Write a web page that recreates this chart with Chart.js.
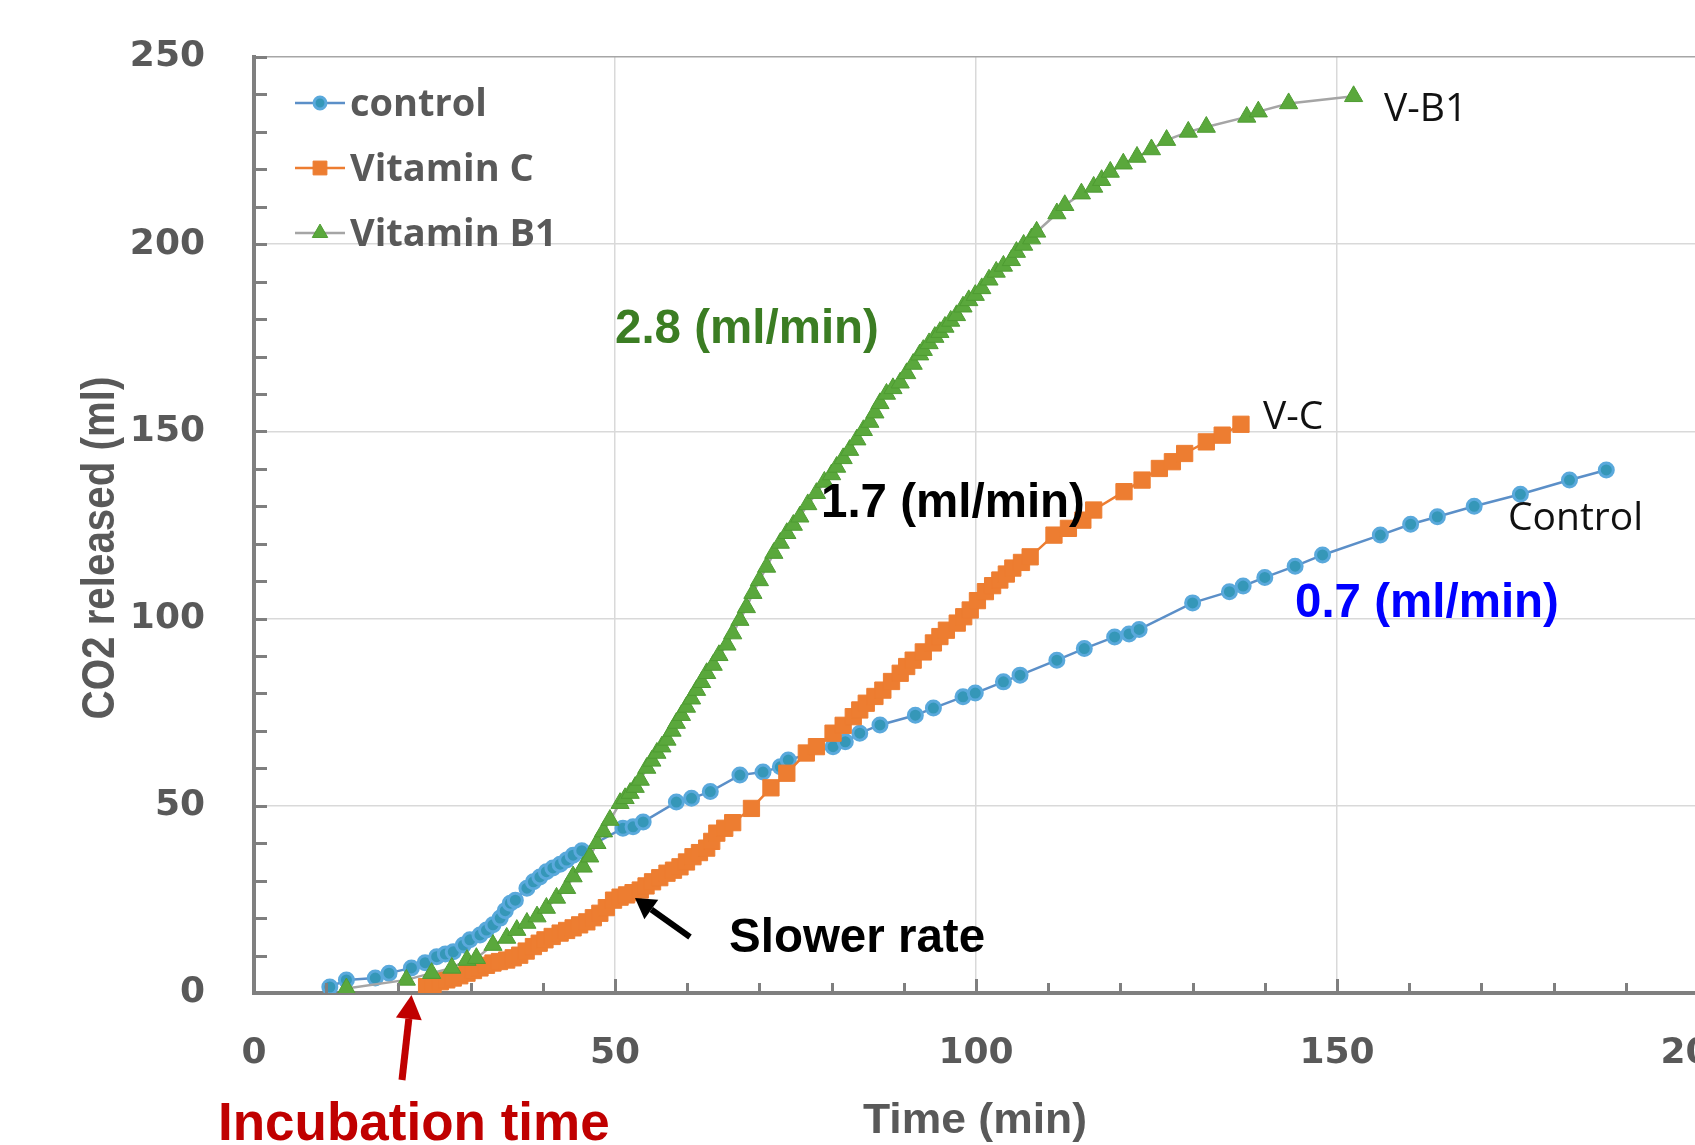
<!DOCTYPE html>
<html>
<head>
<meta charset="utf-8">
<script src="https://cdn.jsdelivr.net/npm/chart.js@4.4.1/dist/chart.umd.min.js"></script>
<style>
  html, body { margin: 0; padding: 0; background: #fff; overflow: hidden; }
  #wrap { position: relative; width: 1720px; height: 1145px; }
</style>
</head>
<body>
<div id="wrap"><canvas id="chart" width="1720" height="1145"></canvas></div>
<script>
const seriesNames = ["control", "Vitamin C", "Vitamin B1"];
const endLabels = ["Control", "V-C", "V-B1"];
const rateLabels = ["0.7 (ml/min)", "1.7 (ml/min)", "2.8 (ml/min)"];

const controlTime = [10.5, 12.8, 16.8, 18.7, 21.8, 23.7, 25.3, 26.5, 27.6, 29, 29.9, 31.3, 32.2, 33.1, 34.1, 34.8, 35.5, 36.2,
  37.8, 38.7, 39.6, 40.5, 41.4, 42.4, 43.3, 44.2, 45.4, 51.1, 52.5, 53.9, 58.5, 60.6, 63.2, 67.3, 70.5, 72.9, 74,
  80.2, 81.9, 83.9, 86.7, 91.6, 94.1, 98.2, 99.9, 103.8, 106.1, 111.2, 115, 119.2, 121.2, 122.6, 130, 135.1, 137,
  140, 144.2, 148, 156, 160.2, 163.9, 169, 175.4, 182.2, 187.3];
const controlCO2 = [1.6, 3.5, 4.0, 5.3, 6.7, 8.1, 9.7, 10.4, 11, 12.8, 14.2, 15.5, 16.8, 18.2, 20, 22, 24, 24.8,
  28, 29.7, 31, 32.4, 33.4, 34.4, 35.5, 36.8, 38, 44, 44.4, 45.7, 51, 52, 53.8, 58.2, 59, 60.4, 62.2,
  65.8, 67.1, 69.4, 71.6, 74.2, 76.1, 79.1, 80.1, 83.1, 84.9, 88.9, 92, 95.1, 95.9, 97.1, 104.2, 107.2, 108.7,
  111, 114, 117, 122.3, 125.2, 127.2, 130, 133.2, 137, 139.7];

const vitCTime = [23.9, 24.8, 25.8, 26.7, 27.6, 28.5, 29.5, 30.4, 31.3, 32.2, 33.1, 34.0, 35, 35.9, 36.8, 37.7, 38.7,
  39.5, 40.3, 41.3, 42.4, 43.3, 44.2, 45.1, 46.1, 47.0, 47.9, 48.8, 49.8, 50.7, 51.6, 52.5, 53.5, 54.3, 55.2,
  56.2, 57.2, 58.1, 59, 59.9, 60.8, 61.7, 62.7, 63.4, 64.1, 65.2, 66.3, 68.9, 71.6, 73.8, 76.5, 77.9, 80.2,
  81.6, 83, 83.9, 84.8, 86.0, 87.1, 88.3, 89.5, 90.4, 91.3, 92.7, 94.1, 95.0, 95.9, 97.4, 98.3, 99.2, 100.2,
  101.3, 102.3, 103.3, 104.2, 105.1, 106.3, 107.5, 110.8, 112.8, 114.8, 116.3, 120.5, 123, 125.4, 127.2,
  128.9, 131.9, 134.1, 136.7];
const vitCCO2 = [1.7, 2.3, 3, 3.5, 4, 4.6, 5.3, 6.0, 6.7, 7.4, 8, 8.4, 8.8, 9.4, 10.1, 11.2, 12.4,
  13.3, 14.2, 15.1, 16, 16.7, 17.4, 18.2, 19, 20.1, 21.3, 22.8, 24.8, 25.6, 26.2, 26.8, 27.5, 28.6, 29.7,
  30.8, 32, 32.8, 33.7, 35.0, 36.4, 37.5, 38.7, 40.5, 42.7, 44.0, 45.5, 49.3, 54.8, 58.7, 64.1, 65.8, 69.4,
  71.5, 73.8, 75.6, 77.4, 79.2, 80.9, 83.2, 85.4, 87.2, 88.9, 91.1, 93.5, 95.2, 96.9, 98.8, 100.5, 102.3, 104.8,
  107.2, 108.8, 110.3, 111.9, 113.5, 115.0, 116.5, 122.3, 124.1, 126.3, 129, 133.9, 137, 140.1, 141.9,
  144.1, 147.2, 149, 151.9];

const vitB1Time = [12.8, 21.1, 24.6, 27.4, 29.5, 30.8, 33.1, 35, 36.4, 37.8, 39.2, 40.5, 41.9, 43.3, 44.2, 45.6, 46.5,
  47.5, 48.4, 49.3, 50.7, 51.4, 52.1, 52.8, 53.5, 54.4, 55.1, 55.8, 56.5, 57.2, 57.9, 58.5, 59.2, 59.9, 60.6,
  61.3, 62, 62.7, 63.6, 64.4, 65.5, 66.3, 67.3, 68.2, 69.1, 70, 71, 72, 72.9, 73.8, 74.7, 75.6, 76.7, 77.9, 79,
  80, 80.7, 81.6, 82.5, 83.5, 84.4, 85.3, 86, 86.7, 87.6, 88.5, 89.5, 90.4, 91.3, 92.2, 92.7, 93.5, 94.3, 95,
  95.7, 96.5, 97.3, 98.2, 99, 99.9, 100.8, 101.8, 102.8, 103.8, 104.9, 105.6, 106.6, 107.7, 108.4, 111.2,
  112.3, 114.6, 116.3, 117.4, 118.6, 120.4, 122.3, 124.3, 126.4, 129.4, 131.9, 137.5, 139.1, 143.3, 152.3];
const vitB1CO2 = [1.2, 3.5, 5.3, 6.7, 8.8, 9.3, 12.8, 14.7, 16.8, 18.7, 20.4, 22.7, 25.4, 28, 31.1, 33.7, 36.4,
  40, 43.1, 46.2, 50.7, 52, 53.4, 55, 56.9, 60.1, 62, 64.1, 65.8, 67.6, 70, 72.1, 74.2, 76.4, 78.6,
  80.9, 83, 85.4, 87.6, 90.2, 93, 96, 99.6, 103, 106.8, 110.2, 113.8, 117.5, 120.2, 122.8, 125, 127.2, 130.5, 133.5, 136.5,
  138.5, 140.5, 142.8, 145, 147.8, 150.3, 152.5, 155, 157.5, 160, 161.5, 163, 165.5, 168, 170.5, 171.7, 173.5, 175.2, 176.5,
  177.9, 179.5, 181, 183.3, 185, 186.4, 188.2, 190.5, 192.6, 194.2, 195.7, 197.9, 199.8, 201.5, 203.3, 208.2,
  210.4, 213.5, 215.3, 217.1, 219.3, 221.5, 223.3, 225.3, 227.8, 230, 231.3, 234, 235.4, 237.6, 239.5];

const xLabelValues = [0, 50, 100, 150, 200];
const yLabelValues = [0, 50, 100, 150, 200, 250];

const axisGray = "#7f7f7f";
const textGray = "#595959";

function toPoints(xs, ys) {
  return xs.map((x, i) => ({ x: x, y: ys[i] }));
}

// draw text squeezed/stretched to a given width
function fitText(ctx, text, x, y, width, font, color, rotate) {
  ctx.save();
  ctx.font = font;
  ctx.fillStyle = color;
  ctx.textAlign = "center";
  ctx.textBaseline = "alphabetic";
  const w = ctx.measureText(text).width;
  ctx.translate(x, y);
  if (rotate) ctx.rotate(-Math.PI / 2);
  ctx.scale(width / w, 1);
  ctx.fillText(text, 0, 0);
  ctx.restore();
}

function plainText(ctx, text, x, y, font, color) {
  ctx.font = font;
  ctx.fillStyle = color;
  ctx.textAlign = "left";
  ctx.textBaseline = "alphabetic";
  ctx.fillText(text, x, y);
}

function arrow(ctx, x1, y1, x2, y2, width, headLen, headWidth, color) {
  const ang = Math.atan2(y2 - y1, x2 - x1);
  const bx = x2 - Math.cos(ang) * headLen;
  const by = y2 - Math.sin(ang) * headLen;
  ctx.strokeStyle = color;
  ctx.fillStyle = color;
  ctx.lineWidth = width;
  ctx.lineCap = "butt";
  ctx.beginPath();
  ctx.moveTo(x1, y1);
  ctx.lineTo(bx, by);
  ctx.stroke();
  const nx = -Math.sin(ang) * headWidth / 2;
  const ny = Math.cos(ang) * headWidth / 2;
  ctx.beginPath();
  ctx.moveTo(x2, y2);
  ctx.lineTo(bx + nx, by + ny);
  ctx.lineTo(bx - nx, by - ny);
  ctx.closePath();
  ctx.fill();
}

const extras = {
  id: "extras",
  afterDraw(chart) {
    const ctx = chart.ctx;
    const xs = chart.scales.x;
    const ys = chart.scales.y;
    const area = chart.chartArea;
    ctx.save();

    // inward tick marks
    ctx.strokeStyle = axisGray;
    ctx.lineWidth = 3;
    for (let v = 10; v <= 250; v += 10) {
      const py = Math.round(ys.getPixelForValue(v)) + 0.5;
      ctx.beginPath();
      ctx.moveTo(area.left, py);
      ctx.lineTo(area.left + 13, py);
      ctx.stroke();
    }
    for (let v = 10; v <= 200; v += 10) {
      const px = Math.round(xs.getPixelForValue(v)) + 0.5;
      const len = v % 50 === 0 ? 14 : 10;
      ctx.beginPath();
      ctx.moveTo(px, area.bottom);
      ctx.lineTo(px, area.bottom - len);
      ctx.stroke();
    }

    // axis titles
    fitText(ctx, "CO2 released (ml)", 114, 548, 343, "bold 46px 'Liberation Sans'", textGray, true);
    fitText(ctx, "Time (min)", 975, 1133, 224, "bold 42px 'Liberation Sans'", textGray, false);

    // legend
    const rows = [103, 168, 233];
    chart.data.datasets.forEach((ds, i) => {
      const y = rows[i];
      ctx.strokeStyle = ds.borderColor;
      ctx.lineWidth = 2.5;
      ctx.beginPath();
      ctx.moveTo(295, y);
      ctx.lineTo(345, y);
      ctx.stroke();
      ctx.fillStyle = ds.pointBackgroundColor;
      ctx.strokeStyle = ds.pointBorderColor;
      ctx.lineWidth = ds.pointBorderWidth;
      Chart.helpers.drawPoint(ctx, { pointStyle: ds.pointStyle, radius: ds.pointRadius * 0.85, borderWidth: ds.pointBorderWidth, rotation: 0 }, 320, y);
      ctx.font = "bold 38px 'Open Sans'";
      ctx.fillStyle = textGray;
      ctx.textAlign = "left";
      ctx.textBaseline = "middle";
      ctx.fillText(ds.label, 350, y + 2);
    });

    // series end labels
    ctx.textBaseline = "middle";
    ctx.font = "39px 'Open Sans'";
    ctx.fillStyle = "#111";
    ctx.fillText(endLabels[2], 1384, 110);
    ctx.fillText(endLabels[1], 1263, 418);
    ctx.fillText(endLabels[0], 1508, 519);

    // rate annotations
    const rateFont = "bold 47.5px 'Liberation Sans'";
    plainText(ctx, rateLabels[2], 615, 343, rateFont, "#3b7d23");
    plainText(ctx, rateLabels[1], 821, 517, rateFont, "#000");
    plainText(ctx, rateLabels[0], 1295, 617, rateFont, "#0000ff");
    plainText(ctx, "Slower rate", 729, 952, rateFont, "#000");
    plainText(ctx, "Incubation time", 218, 1140, "bold 53px 'Liberation Sans'", "#c00000");

    arrow(ctx, 690, 937, 635, 898, 6, 20, 24, "#000");
    arrow(ctx, 402, 1080, 411.5, 995, 7, 24, 26, "#c00000");

    ctx.restore();
  }
};

new Chart(document.getElementById("chart"), {
  type: "scatter",
  data: {
    datasets: [
      {
        label: seriesNames[0],
        data: toPoints(controlTime, controlCO2),
        showLine: true,
        borderColor: "#5b8fc8",
        borderWidth: 2.5,
        pointStyle: "circle",
        pointRadius: 7,
        pointBackgroundColor: "#3597b8",
        pointBorderColor: "#5aa9dc",
        pointBorderWidth: 3,
        order: 3
      },
      {
        label: seriesNames[1],
        data: toPoints(vitCTime, vitCCO2),
        showLine: true,
        borderColor: "#ed7d31",
        borderWidth: 2.5,
        pointStyle: "rect",
        pointRadius: 11.5,
        pointBackgroundColor: "#ed7d31",
        pointBorderColor: "#ed7d31",
        pointBorderWidth: 1,
        order: 2
      },
      {
        label: seriesNames[2],
        data: toPoints(vitB1Time, vitB1CO2),
        showLine: true,
        borderColor: "#a5a5a5",
        borderWidth: 2.5,
        pointStyle: "triangle",
        pointRadius: 10.5,
        pointBackgroundColor: "#5aa83c",
        pointBorderColor: "#4e9c32",
        pointBorderWidth: 1,
        order: 1
      }
    ]
  },
  options: {
    responsive: false,
    animation: false,
    devicePixelRatio: 1,
    layout: { padding: { left: 0, top: 57, right: 22, bottom: 0 } },
    plugins: {
      legend: { display: false },
      tooltip: { enabled: false }
    },
    scales: {
      x: {
        type: "linear",
        min: 0,
        max: 200,
        afterFit(scale) {
          scale.height = 152;
          scale.paddingLeft = 0;
          scale.paddingRight = 0;
        },
        ticks: {
          stepSize: 10,
          autoSkip: false,
          maxRotation: 0,
          padding: 39,
          color: textGray,
          font: { family: "DejaVu Sans", weight: "bold", size: 36 },
          callback: (v) => xLabelValues.includes(v) ? String(v) : ""
        },
        grid: {
          drawTicks: false,
          lineWidth: 1.5,
          color: (c) => (c.tick && c.tick.value % 50 === 0) ? "#d9d9d9" : "rgba(0,0,0,0)"
        },
        border: { display: true, color: axisGray, width: 4 }
      },
      y: {
        type: "linear",
        min: 0,
        max: 250,
        afterFit(scale) {
          scale.width = 254;
          scale.paddingTop = 0;
          scale.paddingBottom = 0;
        },
        ticks: {
          stepSize: 10,
          autoSkip: false,
          padding: 49,
          color: textGray,
          font: { family: "DejaVu Sans", weight: "bold", size: 36 },
          callback: (v) => yLabelValues.includes(v) ? String(v) : ""
        },
        grid: {
          drawTicks: false,
          lineWidth: 1.5,
          color: (c) => {
            if (!c.tick) return "rgba(0,0,0,0)";
            if (c.tick.value === 250) return "#a6a6a6";
            return c.tick.value % 50 === 0 ? "#d9d9d9" : "rgba(0,0,0,0)";
          }
        },
        border: { display: true, color: axisGray, width: 4 }
      }
    }
  },
  plugins: [extras]
});
</script>
</body>
</html>
